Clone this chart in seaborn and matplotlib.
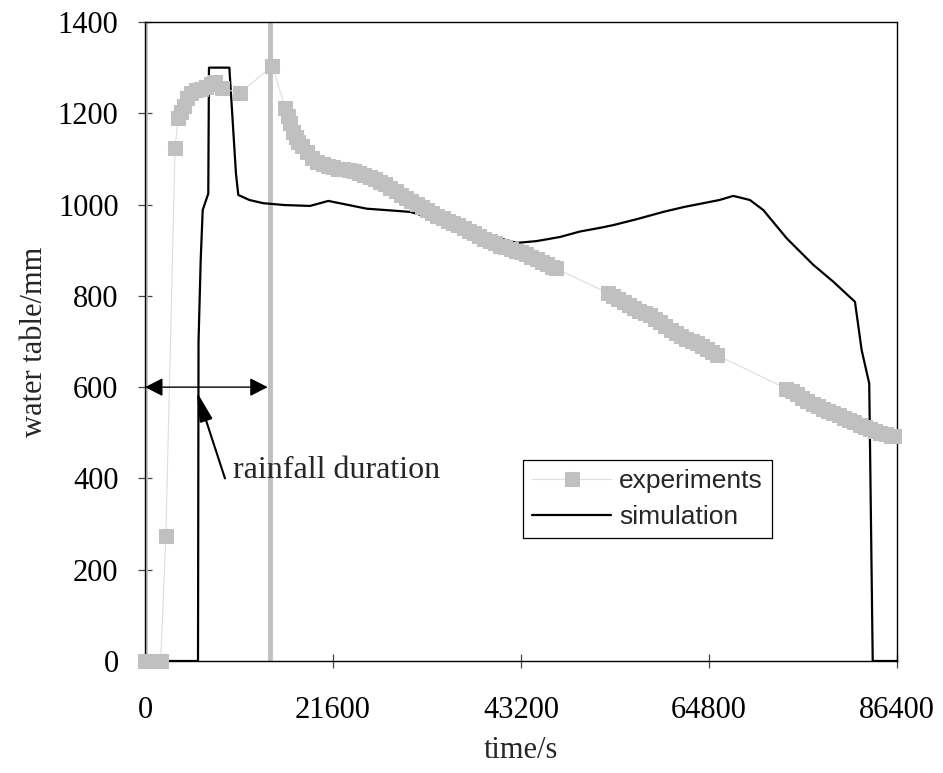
import matplotlib
matplotlib.use('Agg')
import matplotlib.pyplot as plt
import seaborn as sns

# ---------------- data ----------------
x_ticks = [0, 21600, 43200, 64800, 86400]
y_ticks = [0, 200, 400, 600, 800, 1000, 1200, 1400]
rain_start = 0
rain_end = 14400

sim_t = [0, 6090, 6150, 6400, 6630, 7270, 7350, 9690, 10450, 10720, 12000, 13590,
         16000, 18960, 21060, 25470, 30450, 34000, 38000, 42700, 45000, 47680,
         49980, 52280, 53800, 56500, 59550, 62000, 64140, 66000, 67590, 69500,
         71040, 73730, 76780, 79080, 81570, 82340, 83210, 83610, 86400]
sim_y = [0, 0, 700, 879, 988, 1024, 1300, 1300, 1068, 1021, 1010, 1003,
         999, 997, 1008, 991, 984, 965, 940, 916, 920, 929,
         941, 949, 955, 968, 984, 995, 1003, 1010, 1019, 1010,
         988, 926, 868, 831, 787, 681, 608, 0, 0]

exp_t_early = [0, 600, 1200, 1800, 2400, 3450, 3790, 4140, 4480, 4830, 5290, 5860,
               6430, 7010, 7580, 8040, 8810, 10920, 14630]
exp_y_early = [0, 0, 0, 0, 274, 1123, 1189, 1202, 1217, 1233, 1244, 1250,
               1254, 1258, 1265, 1268, 1255, 1244, 1304]

exp_t_block1 = [16100, 16400, 16700, 17000, 17300, 17600, 18000, 18600, 19200, 19800,
                20400, 21000, 21600, 22200, 22800, 23400, 24000, 24600, 25200, 25800,
                26400, 27000, 27600, 28200, 28800, 29400, 30000, 30600, 31200, 31800,
                32400, 33000, 33600, 34200, 34800, 35400, 36000, 36600, 37200, 37800,
                38400, 39000, 39600, 40200, 40800, 41400, 42000, 42600, 43200, 43800,
                44400, 45000, 45600, 46200, 46800, 47200]
exp_y_block1 = [1211, 1195, 1178, 1160, 1147, 1138, 1128, 1115, 1103, 1094,
                1089, 1085, 1082, 1079, 1077, 1075, 1073, 1069, 1065, 1060,
                1055, 1050, 1044, 1037, 1030, 1022, 1015, 1008, 1002, 995,
                988, 982, 976, 971, 965, 960, 955, 949, 943, 937,
                931, 925, 920, 915, 910, 906, 902, 899, 895, 891,
                886, 880, 874, 869, 864, 860]

exp_t_block2 = [53200, 53800, 54400, 55000, 55600, 56200, 56800, 57400, 58000, 58600,
                59200, 59800, 60400, 61000, 61600, 62200, 62800, 63400, 64000, 64600,
                65200, 65700]
exp_y_block2 = [806, 800, 794, 787, 780, 773, 767, 762, 757, 750,
                742, 734, 726, 719, 712, 706, 701, 696, 690, 684,
                677, 670]

exp_t_block3 = [73700, 74300, 74900, 75500, 76100, 76700, 77300, 77900, 78500, 79100,
                79700, 80300, 80900, 81500, 82100, 82700, 83300, 83900, 84500, 85100,
                85700, 86000]
exp_y_block3 = [597, 591, 584, 577, 570, 564, 559, 553, 548, 543,
                538, 533, 528, 523, 518, 513, 508, 504, 500, 497,
                494, 493]

exp_t = exp_t_early + exp_t_block1 + exp_t_block2 + exp_t_block3
exp_y = exp_y_early + exp_y_block1 + exp_y_block2 + exp_y_block3

# ---------------- style ----------------
sns.set_theme(style='white')
plt.rcParams['font.family'] = ['Liberation Serif', 'DejaVu Serif']

fig = plt.figure(figsize=(9.43, 7.73), dpi=100)
ax = fig.add_axes([145 / 943, 1 - 661 / 773, 752 / 943, 639 / 773])

GRAY = '#c0c0c0'

ax.axvline(rain_start, color=GRAY, linewidth=3.5, zorder=1)
ax.axvline(rain_end, color=GRAY, linewidth=3.5, zorder=1)

sns.lineplot(x=exp_t, y=exp_y, ax=ax, color='#dddddd', linewidth=0.8,
             marker='s', markersize=10, markerfacecolor=GRAY, markeredgecolor=GRAY,
             label='experiments', estimator=None, sort=False, zorder=4, clip_on=False)
sns.lineplot(x=sim_t, y=sim_y, ax=ax, color='black', linewidth=1.6,
             label='simulation', estimator=None, sort=False, zorder=3)

ax.set_xlim(0, 86400)
ax.set_ylim(0, 1400)
ax.set_xticks(x_ticks)
ax.set_xticklabels([str(v) for v in x_ticks])
ax.set_yticks(y_ticks)
ax.set_yticklabels([str(v) for v in y_ticks])

for s in ax.spines.values():
    s.set_visible(True)
    s.set_color('black')
    s.set_linewidth(1.0)

ax.tick_params(axis='both', direction='inout', length=10, width=0.9, color='#444444',
               labelsize=22, labelcolor='black')
ax.tick_params(axis='x', pad=20, bottom=True)
ax.tick_params(axis='y', pad=14, left=True)

ax.set_xlabel('time/s', fontsize=22)
ax.xaxis.set_label_coords(0.5, -0.118)
ax.set_ylabel('water table/mm', fontsize=22)
ax.yaxis.set_label_coords(-0.128, 0.5)

# rainfall duration double arrow
ax.annotate('', xy=(rain_start, 600), xytext=(rain_end - 300, 600),
            arrowprops=dict(arrowstyle='<|-|>,head_length=0.55,head_width=0.28',
                            color='black', lw=1.0, mutation_scale=20,
                            shrinkA=0, shrinkB=0), zorder=5)
ax.annotate('', xy=(5940, 590), xytext=(9190, 400),
            arrowprops=dict(arrowstyle='-|>,head_length=0.9,head_width=0.2',
                            color='black', lw=1.5, mutation_scale=20,
                            shrinkA=0, shrinkB=0), zorder=5)
ax.text(10110, 418, 'rainfall duration', fontsize=23, ha='left', va='center')

leg = ax.legend(loc='upper left', bbox_to_anchor=(0.5027, 0.3146), borderaxespad=0,
                frameon=True, fancybox=False, edgecolor='black', framealpha=1,
                prop={'family': 'Liberation Sans', 'size': 19},
                handlelength=3.0, handletextpad=0.3, labelspacing=0.45, borderpad=0.35)
leg.get_frame().set_linewidth(0.9)

fig.savefig('out.png', dpi=100)
